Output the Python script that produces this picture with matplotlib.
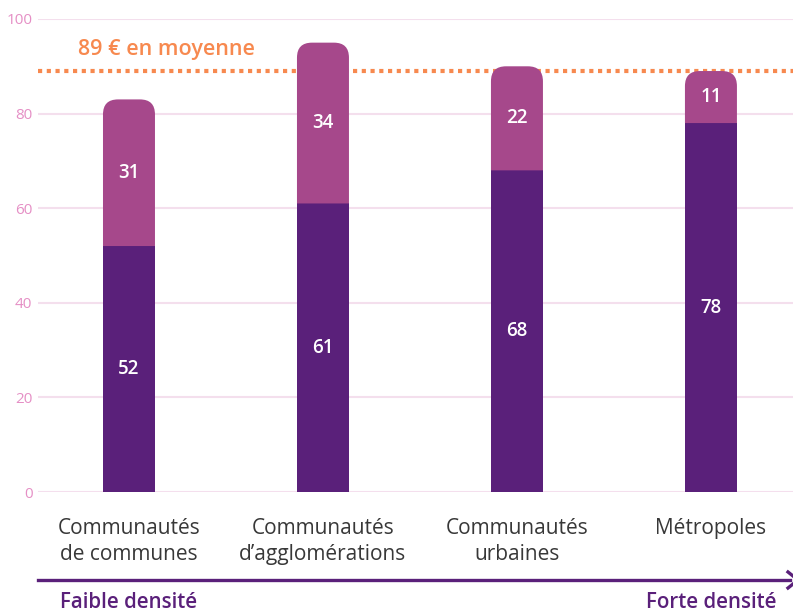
import matplotlib
matplotlib.use("Agg")
import matplotlib.pyplot as plt
from matplotlib.path import Path
from matplotlib.patches import PathPatch

categories = ["Communautés\nde communes", "Communautés\nd\u2019agglomérations",
              "Communautés\nurbaines", "Métropoles"]
base_values = [52, 61, 68, 78]
top_values = [31, 34, 22, 11]
average = 89
yticks = [0, 20, 40, 60, 80, 100]

DARK = "#5a207a"
LIGHT = "#a6488b"
GRID = "#f4dfed"
TICK = "#e58fc5"
ORANGE = "#f7894f"
GRAY = "#383838"

plt.rcParams["font.family"] = ["Open Sans", "DejaVu Sans"]

fig = plt.figure(figsize=(7.93, 6.12), dpi=100)
ax = fig.add_axes([38 / 793, 1 - 492 / 612, 1 - 38 / 793, (492 - 19) / 612])

x = list(range(len(categories)))
width = 0.268

ax.bar(x, base_values, width=width, color=DARK, zorder=3)
tops = ax.bar(x, top_values, width=width, bottom=base_values, color=LIGHT, zorder=3)

ax.set_xlim(-0.469, 3.423)
ax.set_ylim(0, 100)

# rounded top corners (about 15 px radius)
rx = 15 / 194
ry = 15 / 4.73
for rect in tops:
    x0, y0 = rect.get_x(), rect.get_y()
    x1, y1 = x0 + rect.get_width(), y0 + rect.get_height()
    verts = [(x0, y0), (x1, y0), (x1, y1 - ry), (x1, y1), (x1 - rx, y1),
             (x0 + rx, y1), (x0, y1), (x0, y1 - ry), (x0, y0)]
    codes = [Path.MOVETO, Path.LINETO, Path.LINETO, Path.CURVE3, Path.CURVE3,
             Path.LINETO, Path.CURVE3, Path.CURVE3, Path.CLOSEPOLY]
    ax.add_patch(PathPatch(Path(verts, codes), facecolor=LIGHT, edgecolor="none", zorder=3))
    rect.set_visible(False)

for xi, b, t in zip(x, base_values, top_values):
    ax.text(xi, b / 2, str(b), ha="center", va="center", color="white",
            fontsize=13.5, fontweight="semibold", zorder=4)
    ax.text(xi, b + t / 2, str(t), ha="center", va="center", color="white",
            fontsize=13.5, fontweight="semibold", zorder=4)

ax.axhline(average, color=ORANGE, lw=3, linestyle=(0, (1, 1.1)), zorder=2)
fig.text(78 / 793, 1 - 50 / 612, f"{average} € en moyenne",
         color=ORANGE, fontsize=15.5, fontweight="semibold", ha="left", va="center")

ax.set_yticks(yticks)
ax.set_yticklabels([str(v) for v in yticks], color=TICK, fontsize=11)
ax.tick_params(axis="y", length=0, pad=4)
ax.grid(axis="y", color=GRID, lw=1.5, zorder=0)
ax.set_xticks(x)
ax.set_xticklabels(categories, color=GRAY, fontsize=15, linespacing=1.3)
ax.tick_params(axis="x", length=0, pad=19)
for s in ax.spines.values():
    s.set_visible(False)

# density arrow
fig.add_artist(plt.Line2D([38 / 793, 790 / 793], [1 - 580 / 612] * 2, color=DARK, lw=2.4))
fig.add_artist(plt.Line2D([788 / 793, 798 / 793], [1 - 572 / 612, 1 - 580 / 612], color=DARK, lw=2.4))
fig.add_artist(plt.Line2D([788 / 793, 798 / 793], [1 - 588 / 612, 1 - 580 / 612], color=DARK, lw=2.4))
fig.text(60 / 793, 1 - 602 / 612, "Faible densité", color=DARK, fontsize=14.8,
         fontweight="semibold", ha="left", va="center")
fig.text(777 / 793, 1 - 602 / 612, "Forte densité", color=DARK, fontsize=14.8,
         fontweight="semibold", ha="right", va="center")

fig.savefig("out.png", dpi=100, facecolor="white")
